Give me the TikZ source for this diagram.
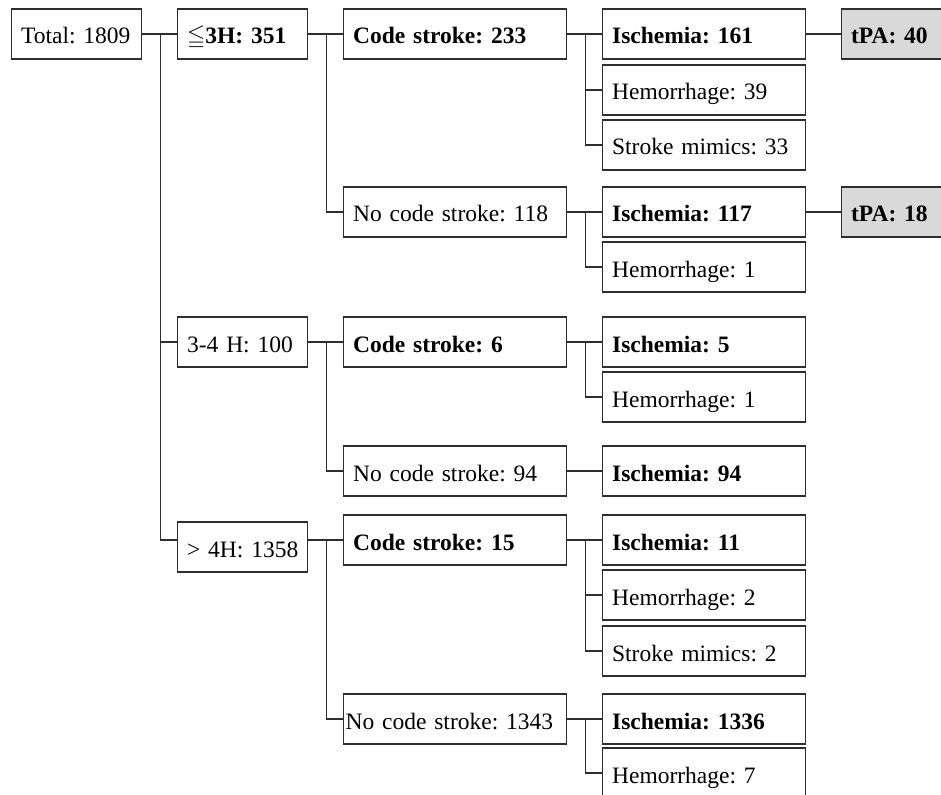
\documentclass[tikz,border=0pt]{standalone}
\usepackage{fontspec}
\usepackage{amssymb}
\setmainfont{Liberation Serif}
\definecolor{linec}{HTML}{2E2E2E}
\definecolor{tpafill}{HTML}{D9D9D9}
\begin{document}
\begin{tikzpicture}[x=1pt,y=-1pt,line width=1.2pt,draw=linec,
    box/.style={draw=linec,anchor=west,minimum height=50pt,inner xsep=9.5pt,
        text height=20pt,text depth=0pt,
        align=left,font=\fontsize{23.5}{28}\selectfont\frenchspacing},
    narrow/.style={box,text width=111pt},
    wide/.style={box,text width=204pt},
    mid/.style={box,text width=184pt},
    tpa/.style={narrow,fill=tpafill}]
    \clip(0,0) rectangle (941,794);
    \node[narrow](tot) at (11,34){Total: 1809};
    \node[narrow](h3) at (177,34){\smash{$\leqq$}\textbf{3H: 351}};
    \node[narrow](h34) at (177,342){3-4 H: 100};
    \node[narrow](h4) at (177,547){\mbox{> 4H: 1358}};
    \node[wide](cs1) at (343,34){\textbf{Code stroke: 233}};
    \node[wide](ncs1) at (343,212){No code stroke: 118};
    \node[wide](cs2) at (343,342){\textbf{Code stroke: 6}};
    \node[wide](ncs2) at (343,471){No code stroke: 94};
    \node[wide](cs3) at (343,540){\textbf{Code stroke: 15}};
    \node[wide,inner xsep=2pt,text width=219pt](ncs3) at (343,719){No code stroke: 1343};
    \node[mid](is1) at (602,34){\textbf{Ischemia: 161}};
    \node[mid](hm1) at (602,90){Hemorrhage: 39};
    \node[mid](sm1) at (602,145){Stroke mimics: 33};
    \node[mid](is2) at (602,212){\textbf{Ischemia: 117}};
    \node[mid](hm2) at (602,267){Hemorrhage: 1};
    \node[mid](is3) at (602,342){\textbf{Ischemia: 5}};
    \node[mid](hm3) at (602,397){Hemorrhage: 1};
    \node[mid](is4) at (602,471){\textbf{Ischemia: 94}};
    \node[mid](is5) at (602,540){\textbf{Ischemia: 11}};
    \node[mid](hm5) at (602,595){Hemorrhage: 2};
    \node[mid](sm5) at (602,651){Stroke mimics: 2};
    \node[mid](is6) at (602,719){\textbf{Ischemia: 1336}};
    \node[mid](hm6) at (602,773){Hemorrhage: 7};
    \node[tpa](tpa1) at (841,34){\textbf{tPA: 40}};
    \node[tpa](tpa2) at (841,212){\textbf{tPA: 18}};
\foreach \a/\b in {tot/h3,tot/h34,h3/cs1,h3/ncs1,h34/cs2,h34/ncs2,
    cs1/is1,cs1/hm1,cs1/sm1,ncs1/is2,ncs1/hm2,cs2/is3,cs2/hm3,ncs2/is4,
    cs3/is5,cs3/hm5,cs3/sm5,ncs3/is6,ncs3/hm6,is1/tpa1,is2/tpa2}
{
    \draw(\a.east)--++(18,0)|-(\b.west);
}
    \draw(tot.east)++(18,0)|-(h4.west|-cs3.west);
    \draw(h4.east|-cs3.west)--(cs3.west);
    \draw(h4.east|-cs3.west)++(18,0)|-(ncs3.west);
\end{tikzpicture}
\end{document}
